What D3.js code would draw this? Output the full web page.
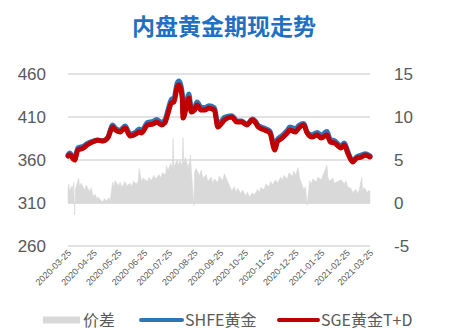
<!DOCTYPE html>
<html>
<head>
<meta charset="utf-8">
<script src="https://cdn.jsdelivr.net/npm/d3@7"></script>
<style>
  body { margin: 0; background: #fff; }
  svg { display: block; font-family: "Liberation Sans", "Noto Sans CJK SC", sans-serif; }
</style>
</head>
<body>
<svg id="chart" width="449" height="336"></svg>
<script>
"use strict";

// Price series (yuan/gram)
var priceDates = [
    "2020-03-25","2020-03-27","2020-04-02","2020-04-06","2020-04-13","2020-04-17","2020-04-24","2020-04-30",
    "2020-05-06","2020-05-12","2020-05-18","2020-05-21","2020-05-27","2020-06-02","2020-06-08","2020-06-15",
    "2020-06-19","2020-06-22","2020-06-29","2020-07-06","2020-07-10","2020-07-16","2020-07-20","2020-07-24",
    "2020-07-28","2020-07-31","2020-08-04","2020-08-06","2020-08-10","2020-08-11","2020-08-17","2020-08-18",
    "2020-08-21","2020-08-25","2020-08-28","2020-09-02","2020-09-07","2020-09-11","2020-09-18","2020-09-22",
    "2020-09-28","2020-09-30","2020-10-09","2020-10-15","2020-10-21","2020-10-27","2020-11-03","2020-11-06",
    "2020-11-10","2020-11-17","2020-11-24","2020-11-30","2020-12-03","2020-12-09","2020-12-15","2020-12-18",
    "2020-12-25","2020-12-29","2021-01-04","2021-01-08","2021-01-14","2021-01-20","2021-01-25","2021-02-01",
    "2021-02-05","2021-02-10","2021-02-18","2021-02-22","2021-02-26","2021-03-04","2021-03-09","2021-03-15",
    "2021-03-19","2021-03-25"
];

var sge = [
    364.5, 366.0, 360.0, 371.6, 374.0, 377.4, 381.0, 383.0,
    382.0, 385.6, 398.4, 395.0, 392.6, 397.2, 388.0, 390.2,
    392.6, 391.4, 400.7, 401.9, 404.2, 400.7, 403.0, 414.7,
    426.3, 427.4, 444.9, 447.2, 433.3, 408.8, 429.8, 432.0,
    415.8, 418.0, 424.0, 418.0, 418.0, 420.5, 418.0, 398.4,
    404.2, 406.5, 410.0, 404.2, 404.2, 400.7, 406.5, 404.2,
    398.4, 395.0, 391.4, 371.6, 381.0, 385.6, 391.4, 395.0,
    392.6, 397.2, 400.7, 391.4, 386.7, 389.0, 385.6, 389.0,
    381.0, 379.8, 374.0, 377.4, 368.1, 357.7, 362.3, 363.5,
    365.8, 363.5
];

var shfe = [
    366.0, 368.0, 361.8, 374.1, 376.2, 379.0, 381.8, 383.3,
    382.4, 386.1, 400.7, 397.1, 394.7, 399.4, 390.2, 392.6,
    396.1, 394.1, 403.5, 404.9, 407.2, 403.9, 406.4, 418.7,
    430.6, 432.0, 449.5, 452.0, 438.1, 414.8, 434.3, 436.8,
    420.0, 421.6, 427.4, 421.3, 420.9, 423.1, 420.8, 401.3,
    407.2, 409.7, 411.5, 405.6, 405.3, 401.6, 407.6, 405.7,
    400.2, 397.1, 393.8, 374.2, 383.8, 388.6, 394.5, 398.3,
    396.4, 400.2, 402.3, 392.4, 389.3, 391.9, 388.8, 393.0,
    383.7, 382.4, 376.5, 379.8, 370.3, 359.3, 363.7, 365.9,
    367.2, 364.8
];

// Spread SHFE - SGE (right axis)
var spreadDates = [
    "2020-03-25","2020-03-26","2020-03-27","2020-03-30","2020-03-31","2020-04-01","2020-04-02","2020-04-03",
    "2020-04-07","2020-04-08","2020-04-10","2020-04-14","2020-04-16","2020-04-20","2020-04-22","2020-04-24",
    "2020-04-27","2020-04-29","2020-04-30","2020-05-06","2020-05-08","2020-05-11","2020-05-13","2020-05-15",
    "2020-05-18","2020-05-19","2020-05-21","2020-05-25","2020-05-27","2020-05-29","2020-06-02","2020-06-04",
    "2020-06-08","2020-06-10","2020-06-12","2020-06-16","2020-06-18","2020-06-19","2020-06-22","2020-06-24",
    "2020-06-29","2020-07-01","2020-07-03","2020-07-07","2020-07-09","2020-07-13","2020-07-15","2020-07-17",
    "2020-07-21","2020-07-22","2020-07-24","2020-07-27","2020-07-29","2020-07-30","2020-07-31","2020-08-04",
    "2020-08-05","2020-08-07","2020-08-10","2020-08-11","2020-08-12","2020-08-14","2020-08-17","2020-08-19",
    "2020-08-20","2020-08-21","2020-08-24","2020-08-25","2020-08-27","2020-08-31","2020-09-02","2020-09-04",
    "2020-09-08","2020-09-10","2020-09-14","2020-09-16","2020-09-18","2020-09-22","2020-09-24","2020-09-28",
    "2020-09-30","2020-10-09","2020-10-12","2020-10-14","2020-10-16","2020-10-20","2020-10-22","2020-10-26",
    "2020-10-28","2020-10-30","2020-11-03","2020-11-05","2020-11-09","2020-11-11","2020-11-13","2020-11-17",
    "2020-11-19","2020-11-23","2020-11-25","2020-11-27","2020-12-01","2020-12-03","2020-12-07","2020-12-09",
    "2020-12-11","2020-12-15","2020-12-17","2020-12-21","2020-12-23","2020-12-25","2020-12-28","2020-12-30",
    "2021-01-04","2021-01-06","2021-01-08","2021-01-11","2021-01-13","2021-01-15","2021-01-19","2021-01-21",
    "2021-01-25","2021-01-28","2021-02-01","2021-02-02","2021-02-04","2021-02-08","2021-02-10","2021-02-18",
    "2021-02-22","2021-02-24","2021-02-26","2021-03-02","2021-03-04","2021-03-08","2021-03-10","2021-03-12",
    "2021-03-15","2021-03-16","2021-03-18","2021-03-22","2021-03-24","2021-03-25"
];

var spread = [
    1.5, 2.2, 1.4, 2.0, 1.1, 2.4, -1.4, 1.6,
    2.9, 1.8, 2.3, 1.5, 2.1, 1.3, 1.8, 0.8,
    1.0, 0.4, 0.7, 0.1, 0.5, 0.2, 0.6, 0.3,
    2.4, 1.9, 2.6, 2.0, 2.4, 1.8, 2.5, 2.0,
    2.3, 1.9, 2.5, 2.2, 2.6, 4.0, 2.4, 2.9,
    2.5, 3.0, 2.6, 3.2, 2.8, 3.3, 2.9, 3.5,
    3.3, 4.3, 3.8, 4.6, 4.0, 7.5, 4.2, 5.0,
    4.3, 4.9, 4.4, 7.6, 4.6, 5.3, 4.1, 4.8,
    5.6, 3.9, -0.3, 3.6, 4.0, 3.2, 3.8, 2.9,
    3.3, 2.5, 3.0, 2.3, 2.8, 2.4, 3.1, 2.6,
    3.4, 1.4, 1.9, 1.2, 1.7, 1.1, 1.5, 0.8,
    1.3, 0.7, 1.2, 0.9, 1.6, 1.2, 1.8, 1.5,
    2.2, 1.9, 2.5, 2.1, 2.7, 2.3, 3.0, 2.6,
    3.2, 2.8, 3.5, 3.1, 3.7, 3.2, 4.1, 2.9,
    1.5, 1.9, -0.3, 2.6, 2.2, 2.8, 2.4, 3.0,
    2.7, 3.4, 4.4, 3.0, 2.5, 2.9, 2.3, 2.7,
    2.2, 2.6, 1.9, 1.7, 1.2, 1.6, 1.1, 1.5,
    3.0, 1.4, 1.8, 1.2, 1.5, 1.3
];

var leftTicks = [260, 310, 360, 410, 460];
var rightTicks = [-5, 0, 5, 10, 15];
var dateTicks = [
    "2020-03-25","2020-04-25","2020-05-25","2020-06-25","2020-07-25","2020-08-25","2020-09-25",
    "2020-10-25","2020-11-25","2020-12-25","2021-01-25","2021-02-25","2021-03-25"
];

var seriesNames = ["价差", "SHFE黄金", "SGE黄金T+D"];
var colors = { spread: "#d9d9d9", shfe: "#2e75b6", sge: "#c00000", text: "#595959", grid: "#d9d9d9" };

var parse = d3.timeParse("%Y-%m-%d");
var svg = d3.select("#chart");

var plot = { left: 68, right: 370, top: 74, bottom: 246 };

var x = d3.scaleTime()
    .domain([parse(dateTicks[0]), parse(dateTicks[dateTicks.length - 1])])
    .range([plot.left, plot.right]);
var yL = d3.scaleLinear().domain([260, 460]).range([plot.bottom, plot.top]);
var yR = d3.scaleLinear().domain([-5, 15]).range([plot.bottom, plot.top]);

// Title
svg.append("text")
    .attr("x", 224).attr("y", 35)
    .attr("text-anchor", "middle")
    .style("font-family", "'Noto Sans CJK SC', sans-serif")
    .style("font-size", "23px").style("font-weight", "bold")
    .style("fill", "#1f6fc5")
    .text("内盘黄金期现走势");

// Gridlines
svg.append("g").selectAll("line").data(leftTicks).join("line")
    .attr("x1", plot.left).attr("x2", plot.right)
    .attr("y1", function(d){ return yL(d); }).attr("y2", function(d){ return yL(d); })
    .style("stroke", colors.grid).style("stroke-width", 1.3);

// Left axis labels
var axL = svg.append("g").attr("transform", "translate(46,0)")
    .call(d3.axisLeft(yL).tickValues(leftTicks).tickSize(0).tickPadding(0));
axL.select(".domain").remove();
axL.selectAll("text").style("font-size", "17px").style("fill", colors.text)
    .style("font-family", "'Liberation Sans', sans-serif");

// Right axis labels (plain hyphen for negatives, as in the original)
var axR = svg.append("g").attr("transform", "translate(394,0)")
    .call(d3.axisRight(yR).tickValues(rightTicks).tickSize(0).tickPadding(0).tickFormat(String));
axR.select(".domain").remove();
axR.selectAll("text").style("font-size", "17px").style("fill", colors.text)
    .style("font-family", "'Liberation Sans', sans-serif");

// Date labels, rotated
var axB = svg.append("g").attr("transform", "translate(0," + (plot.bottom + 7) + ")")
    .call(d3.axisBottom(x).tickValues(dateTicks.map(parse)).tickSize(0).tickPadding(0)
        .tickFormat(d3.timeFormat("%Y-%m-%d")));
axB.select(".domain").remove();
axB.selectAll("text")
    .attr("dy", "0.3em").attr("y", 0).attr("x", 2)
    .attr("transform", "rotate(-45)")
    .style("text-anchor", "end")
    .style("font-size", "9px").style("fill", colors.text);

// Spread area
var spreadData = spreadDates.map(function(d, i){ return { date: parse(d), v: spread[i] }; });
svg.append("path").datum(spreadData)
    .attr("d", d3.area()
        .x(function(d){ return x(d.date); })
        .y0(yR(0))
        .y1(function(d){ return yR(d.v); }))
    .style("fill", colors.spread).style("stroke", colors.spread).style("stroke-width", 0.6);

// Price lines
var priceLine = function(values){
    return d3.line()
        .x(function(d, i){ return x(parse(priceDates[i])); })
        .y(function(d){ return yL(d); })
        .curve(d3.curveMonotoneX)(values);
};
svg.append("path").attr("d", priceLine(shfe))
    .style("fill", "none").style("stroke", colors.shfe).style("stroke-width", 5)
    .style("stroke-linejoin", "round").style("stroke-linecap", "round");
svg.append("path").attr("d", priceLine(sge))
    .style("fill", "none").style("stroke", colors.sge).style("stroke-width", 5)
    .style("stroke-linejoin", "round").style("stroke-linecap", "round");

// Legend
var legend = svg.append("g").attr("transform", "translate(0,320)");
var legendItems = [
    { name: seriesNames[0], color: colors.spread, x: 43, w: 37, h: 7, cap: "butt" },
    { name: seriesNames[1], color: colors.shfe, x: 141, w: 41, h: 4, cap: "round" },
    { name: seriesNames[2], color: colors.sge, x: 279, w: 39, h: 4, cap: "round" }
];
legendItems.forEach(function(it){
    legend.append("line")
        .attr("x1", it.x).attr("x2", it.x + it.w).attr("y1", 0).attr("y2", 0)
        .style("stroke", it.color).style("stroke-width", it.h).style("stroke-linecap", it.cap);
    legend.append("text")
        .attr("x", it.x + it.w + 3).attr("y", 0).attr("dy", "0.35em")
        .style("font-family", "'Noto Sans CJK SC', sans-serif")
        .style("font-size", "16px").style("fill", colors.text)
        .text(it.name);
});
</script>
</body>
</html>
